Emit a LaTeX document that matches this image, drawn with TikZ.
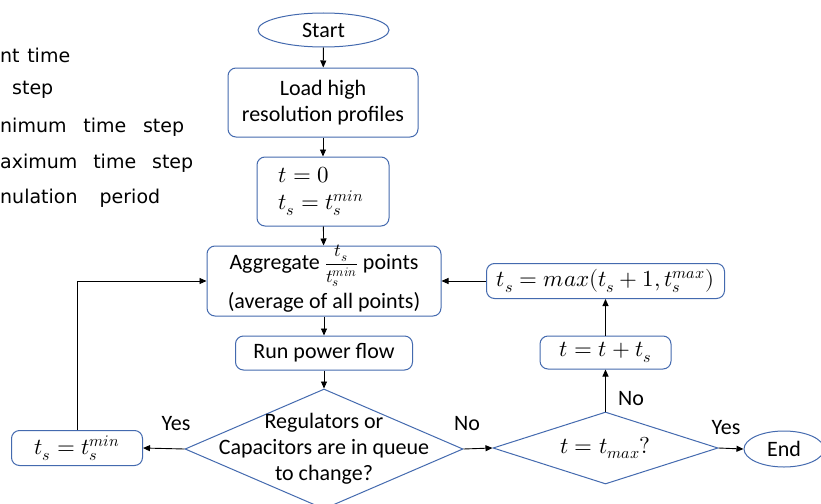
\documentclass[tikz,border=0pt]{standalone}
\usepackage{fontspec}
\usepackage{unicode-math}
\setmainfont{Carlito}
\setmathfont{Latin Modern Math}
\newfontfamily\listfont{DejaVu Sans}
\usetikzlibrary{shapes.geometric,arrows.meta}
\definecolor{bcol}{RGB}{68,106,175}
\tikzset{
  box/.style={draw=bcol, line width=1pt, rounded corners=8pt, inner sep=0pt, align=center},
  oval/.style={draw=bcol, line width=1pt, ellipse, inner sep=0pt},
  dia/.style={draw=bcol, line width=1pt, diamond, inner sep=0pt},
  arr/.style={draw=black, line width=0.9pt, -{Triangle[length=7pt,width=6pt]}},
  lbl/.style={inner sep=0pt},
  listtxt/.style={anchor=west, inner sep=0pt, font=\listfont\fontsize{19}{22}\selectfont},
  mth/.style={font=\fontsize{23}{27}\selectfont}
}
\begin{document}
\begin{tikzpicture}[x=1pt,y=-1pt,font=\fontsize{22}{26}\selectfont]
\clip (0,0) rectangle (821,503);
\fill[white] (0,0) rectangle (821,503);
% partial list on the left
\node[listtxt] (l1) at (0,55) {\hbox to 70pt{nt\hfil time}};
\node[listtxt] (l2) at (12,90) {\hbox to 35pt{step}};
\node[listtxt] (l3) at (0,127) {\hbox to 184pt{nimum\hfil time\hfil step}};
\node[listtxt] (l4) at (0,163) {\hbox to 193pt{aximum\hfil time\hfil step}};
\node[listtxt] (l5) at (0,198) {\hbox to 160pt{nulation\hfil period}};
% main column
\node[oval, minimum width=131pt, minimum height=34pt] (start) at (323.5,30) {Start};
\node[box, minimum width=190pt, minimum height=69pt] (load) at (323,102.5) {Load high\\resolution profiles};
\node[box, minimum width=132pt, minimum height=69pt] (init) at (323,191.5) {};
\node[lbl, mth, align=left] (initt) at (321,191.5) {$t=0$\\$t_s=t_s^{min}$};
\node[box, minimum width=234pt, minimum height=70pt] (agg) at (324,281) {};
\node[lbl] (agg1) at (324,266) {Aggregate {\fontsize{18.5}{21}\selectfont$\dfrac{t_s}{t_s^{min}}$} points};
\node[lbl] (agg2) at (324,302) {(average of all points)};
\node[box, minimum width=177pt, minimum height=34pt] (run) at (324,353) {Run power flow};
\node[dia, minimum width=278pt, minimum height=120pt] (dec1) at (324,449) {};
\node[lbl, align=center] (dec1t) at (324,449) {Regulators or\\Capacitors are in queue\\to change?};
\node[box, mth, minimum width=131pt, minimum height=35pt] (tmin) at (77,448) {$t_s=t_s^{min}$};
\node[dia, minimum width=225pt, minimum height=72pt] (dec2) at (605.5,448) {};
\node[lbl, mth] (dec2t) at (605.5,448) {$t=t_{max}?$};
\node[oval, minimum width=80pt, minimum height=36pt] (end) at (784,449) {End};
\node[box, mth, minimum width=131pt, minimum height=33pt] (tinc) at (605.5,352.5) {$t=t+t_s$};
\node[box, mth, minimum width=238pt, minimum height=35pt] (tmax) at (605.5,281) {$t_s=max(t_s+1,t_s^{max})$};
% connectors
\draw[arr] (start) -- (load);
\draw[arr] (load) -- (init);
\draw[arr] (init) -- (agg);
\draw[arr] (agg) -- (run);
\draw[arr] (run) -- (dec1.north);
\draw[arr] (dec1.west) -- (tmin.east);
\draw[arr] (tmin.north) |- (agg.west);
\draw[arr] (dec1.east) -- (dec2.west);
\draw[arr] (dec2.east) -- (end.west);
\draw[arr] (dec2.north) -- (tinc.south);
\draw[arr] (tinc.north) -- (tmax.south);
\draw[arr] (tmax.west) -- (agg.east);
% labels
\node[lbl] (yes1) at (176,424) {Yes};
\node[lbl] (no1) at (467,424) {No};
\node[lbl] (yes2) at (726,428) {Yes};
\node[lbl] (no2) at (631,399) {No};
\end{tikzpicture}
\end{document}
